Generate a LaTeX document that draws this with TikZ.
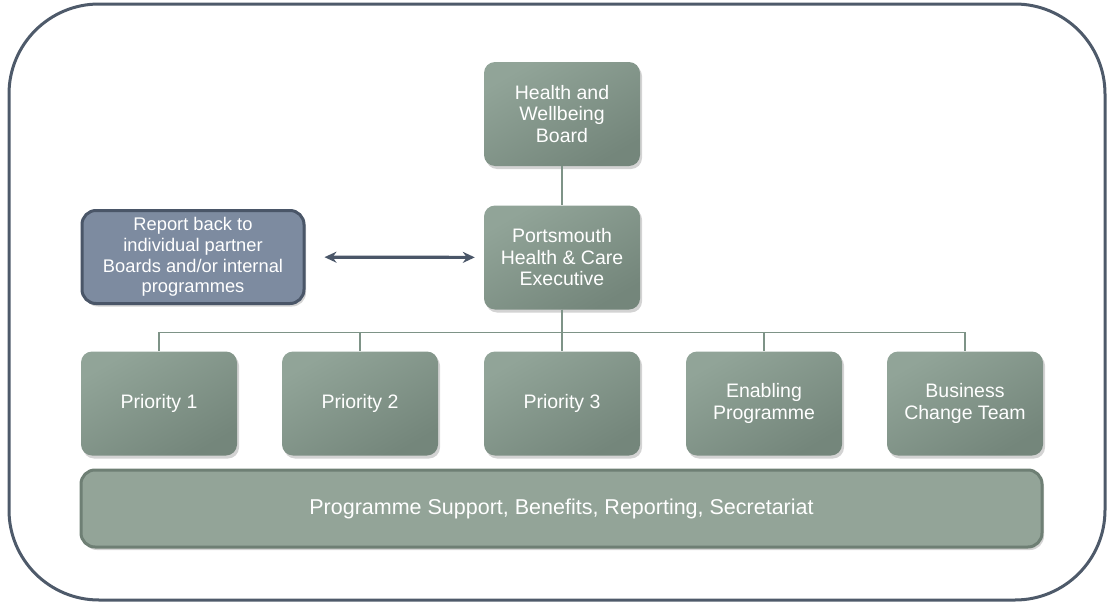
\documentclass[tikz,border=0pt]{standalone}
\usepackage{fontspec}
\setmainfont{Liberation Sans}
\usetikzlibrary{shadows, arrows.meta}

\definecolor{boxlight}{HTML}{91A498}
\definecolor{boxdark}{HTML}{74867B}
\definecolor{barfill}{HTML}{93A498}
\definecolor{bardraw}{HTML}{6E7F74}
\definecolor{repfill}{HTML}{7D8BA0}
\definecolor{repdraw}{HTML}{4A5668}
\definecolor{frame}{HTML}{4E5A6A}
\definecolor{linkcol}{HTML}{7E9387}

\tikzset{
	orgbox/.style = {rounded corners = 11pt, top color = boxlight, bottom color = boxdark, shading angle = 30,
		drop shadow = {opacity = 0.35, shadow xshift = 2pt, shadow yshift = -3pt},
		text = white, align = center, inner sep = 0pt,
		minimum width = 156pt, minimum height = 104pt, font = \fontsize{19.5}{21.5}\selectfont},
	link/.style = {draw = linkcol, line width = 1.2pt}
}

\begin{document}
\begin{tikzpicture} [x = 1pt, y = -1pt]
		\useasboundingbox (0,0) rectangle (1109,605);
		\draw [frame, line width = 3pt, rounded corners = 90pt] (9,4) rectangle (1105,600);

		\node [orgbox] (hwb) at (562,114) {Health and\\Wellbeing\\Board};
		\node [orgbox] (phce) at (562,257.5) {Portsmouth\\Health \& Care\\Executive};
		\node [orgbox, shading = axis, top color = repfill, bottom color = repfill, draw = repdraw, line width = 3pt,
			minimum width = 222pt, minimum height = 93pt, rounded corners = 14pt,
			font = \fontsize{18.3}{20.8}\selectfont] (report) at (193,257) {Report back to\\individual partner\\Boards and/or internal\\programmes};

		\node [orgbox] (p1) at (159,403.5) {Priority 1};
		\node [orgbox] (p2) at (360,403.5) {Priority 2};
		\node [orgbox] (p3) at (562,403.5) {Priority 3};
		\node [orgbox] (enab) at (764,403.5) {Enabling\\Programme};
		\node [orgbox] (bct) at (965,403.5) {Business\\Change Team};

		\node [orgbox, top color = barfill, bottom color = barfill, draw = bardraw, line width = 3pt,
			minimum width = 961pt, minimum height = 77pt, rounded corners = 14pt,
			font = \fontsize{21.5}{24}\selectfont] (prog) at (561.5,508.5)
			{Programme Support, Benefits, Reporting, Secretariat};

		\draw [link] (hwb) -- (phce);
		\foreach \p in {p1, p2, p3, enab, bct}
			\draw [link] (phce.south) -- ++(0,23) -| (\p.north);

		\draw [repdraw, line width = 3.2pt, {Stealth[length=12pt,width=11pt]}-{Stealth[length=12pt,width=11pt]},
			shorten <= 19pt, shorten >= 9pt] (report) -- (phce);
	\end{tikzpicture}
\end{document}
